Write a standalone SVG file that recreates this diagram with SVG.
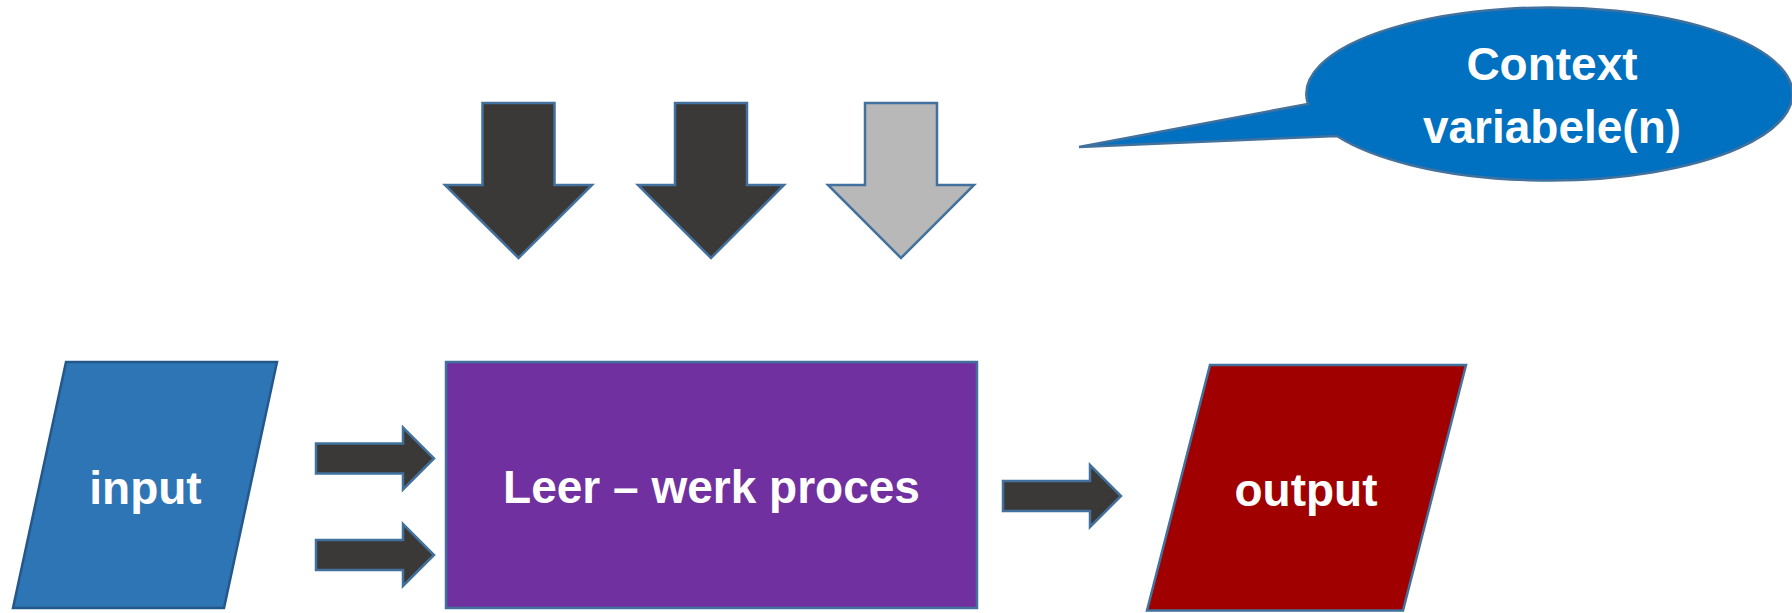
<svg xmlns="http://www.w3.org/2000/svg" width="1792" height="613" viewBox="0 0 1792 613">
<style>
.lbl{font-family:"Liberation Sans",Arial,sans-serif;font-weight:bold;font-size:46px;fill:#ffffff;text-anchor:middle}
.blk{fill:#3b3938;stroke:#41719c;stroke-width:2.5;stroke-linejoin:miter}
.gry{fill:#b8b8b8;stroke:#41719c;stroke-width:2.5}
</style>
<rect width="1792" height="613" fill="#ffffff"/>
<g id="context-arrow-1"><path class="blk" d="M482.5,103 H554.5 V185 H592 L518.5,258 L445,185 H482.5 Z"/></g>
<g id="context-arrow-2"><path class="blk" d="M675,103 H747 V185 H784 L711,258 L638,185 H675 Z"/></g>
<g id="context-arrow-3"><path class="gry" d="M865,103 H937 V185 H974 L901,258 L828,185 H865 Z"/></g>
<g id="callout">
<path d="M1308,104 L1079,147 L1337,136 A243,86.5 0 1 0 1308,104 Z" fill="#0070c0" stroke="#41719c" stroke-width="2.5"/>
<text class="lbl" x="1552" y="80">Context</text>
<text class="lbl" x="1552" y="143">variabele(n)</text>
</g>
<g id="input">
<path d="M66,362 H277 L224,608 H13 Z" fill="#2e75b6" stroke="#24588a" stroke-width="2.5"/>
<text class="lbl" x="145.5" y="504">input</text>
</g>
<g id="process">
<rect x="446" y="362" width="531" height="246" fill="#7030a0" stroke="#41719c" stroke-width="2.5"/>
<text class="lbl" x="711.5" y="503">Leer – werk proces</text>
</g>
<g id="output">
<path d="M1210,365 H1466 L1403,610.5 H1147 Z" fill="#a00000" stroke="#41719c" stroke-width="2.5"/>
<text class="lbl" x="1306" y="506">output</text>
</g>
<g id="connectors">
<path class="blk" d="M316,443.5 H403 V427.5 L434,458.5 L403,489.5 V473.5 H316 Z"/>
<path class="blk" d="M316,540 H403 V524 L434,555 L403,586 V570 H316 Z"/>
<path class="blk" d="M1003,481 H1090 V465 L1121,496 L1090,527 V511 H1003 Z"/>
</g>
</svg>
